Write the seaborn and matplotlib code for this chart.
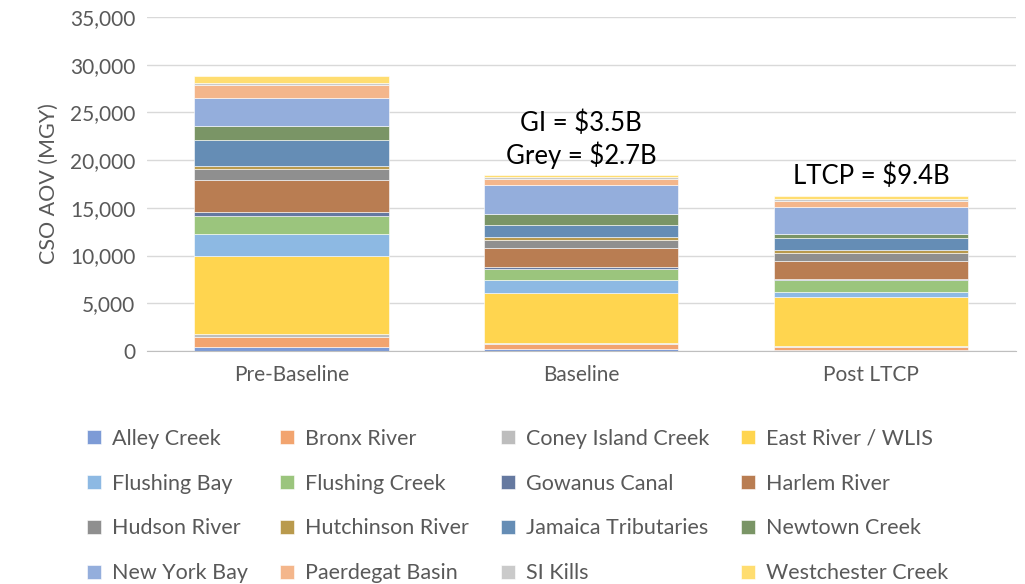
import numpy as np
import pandas as pd
import matplotlib
matplotlib.use("Agg")
import matplotlib.pyplot as plt
import seaborn as sns

# --- Data (MGY) ---
scenarios = ["Pre-Baseline", "Baseline", "Post LTCP"]
waterbodies = ["Alley Creek", "Bronx River", "Coney Island Creek", "East River / WLIS",
               "Flushing Bay", "Flushing Creek", "Gowanus Canal", "Harlem River",
               "Hudson River", "Hutchinson River", "Jamaica Tributaries", "Newtown Creek",
               "New York Bay", "Paerdegat Basin", "SI Kills", "Westchester Creek"]
alley_creek = [420, 200, 100]
bronx_river = [1050, 550, 350]
coney_island = [300, 110, 100]
east_river = [8200, 5200, 5070]
flushing_bay = [2300, 1400, 590]
flushing_creek = [1900, 1100, 1220]
gowanus_canal = [350, 280, 140]
harlem_river = [3400, 1950, 1850]
hudson_river = [1150, 880, 840]
hutchinson_river = [350, 280, 350]
jamaica_tribs = [2700, 1250, 1250]
newtown_creek = [1500, 1150, 390]
new_york_bay = [2850, 3080, 2860]
paerdegat_basin = [1400, 600, 560]
si_kills = [250, 180, 240]
westchester_creek = [650, 280, 320]
cost_labels = ["GI = $3.5B\nGrey = $2.7B", "LTCP = $9.4B"]

series = [alley_creek, bronx_river, coney_island, east_river, flushing_bay, flushing_creek,
          gowanus_canal, harlem_river, hudson_river, hutchinson_river, jamaica_tribs,
          newtown_creek, new_york_bay, paerdegat_basin, si_kills, westchester_creek]
colors = ["#7D9BD6", "#F2A46F", "#BDBDBD", "#FFD54F", "#8DB9E3", "#9BC57D", "#6579A0",
          "#B97D52", "#8F8F8F", "#B99A4D", "#658DB5", "#7A9566", "#94AEDC", "#F4B68B",
          "#CACACA", "#FFDD70"]

sns.set_style("white")
plt.rcParams["font.family"] = ["Lato", "DejaVu Sans"]

fig = plt.figure(figsize=(10.25, 5.84), dpi=100)
ax = fig.add_axes([0.143, 0.399, 0.848, 0.572])

bottom = np.zeros(len(scenarios))
for name, vals, c in zip(waterbodies, series, colors):
    df = pd.DataFrame({"scenario": scenarios, "aov": vals})
    sns.barplot(data=df, x="scenario", y="aov", color=c, bottom=bottom, width=0.67,
                label=name, ax=ax, edgecolor="white", linewidth=0.4, saturation=1)
    bottom += np.array(vals)

ax.set_ylim(0, 35000)
ax.set_xlim(-0.5, 2.5)
ax.set_yticks(range(0, 35001, 5000))
ax.yaxis.set_major_formatter(matplotlib.ticker.FuncFormatter(lambda v, p: f"{int(v):,}"))
ax.grid(axis="y", color="#D9D9D9", linewidth=1)
ax.set_axisbelow(True)
for s in ["top", "right", "left"]:
    ax.spines[s].set_visible(False)
ax.spines["bottom"].set_color("#BFBFBF")
ax.tick_params(axis="both", colors="#595959", labelsize=15, length=0, pad=8)
ax.tick_params(axis="x", pad=10)
ax.set_xlabel("")
ax.set_ylabel("CSO AOV (MGY)", fontsize=15.5, color="#595959", labelpad=8)

ax.text(1, 22150, cost_labels[0], ha="center", va="center", fontsize=18.5, color="black",
        linespacing=1.25)
ax.text(2, 18350, cost_labels[1], ha="center", va="center", fontsize=18.5, color="black")

# legend filled row by row, like the original
handles, labels = ax.get_legend_handles_labels()
if ax.get_legend() is not None:
    ax.get_legend().remove()
order = [r * 4 + c for c in range(4) for r in range(4)]
fig.legend([handles[i] for i in order], [labels[i] for i in order], ncol=4,
           loc="upper center", bbox_to_anchor=(0.505, 0.292), frameon=False, fontsize=15.5,
           labelcolor="#595959", handlelength=0.65, handleheight=0.65, handletextpad=0.5,
           columnspacing=1.5, labelspacing=1.16, borderpad=0.2)

fig.savefig("out.png", dpi=100)
